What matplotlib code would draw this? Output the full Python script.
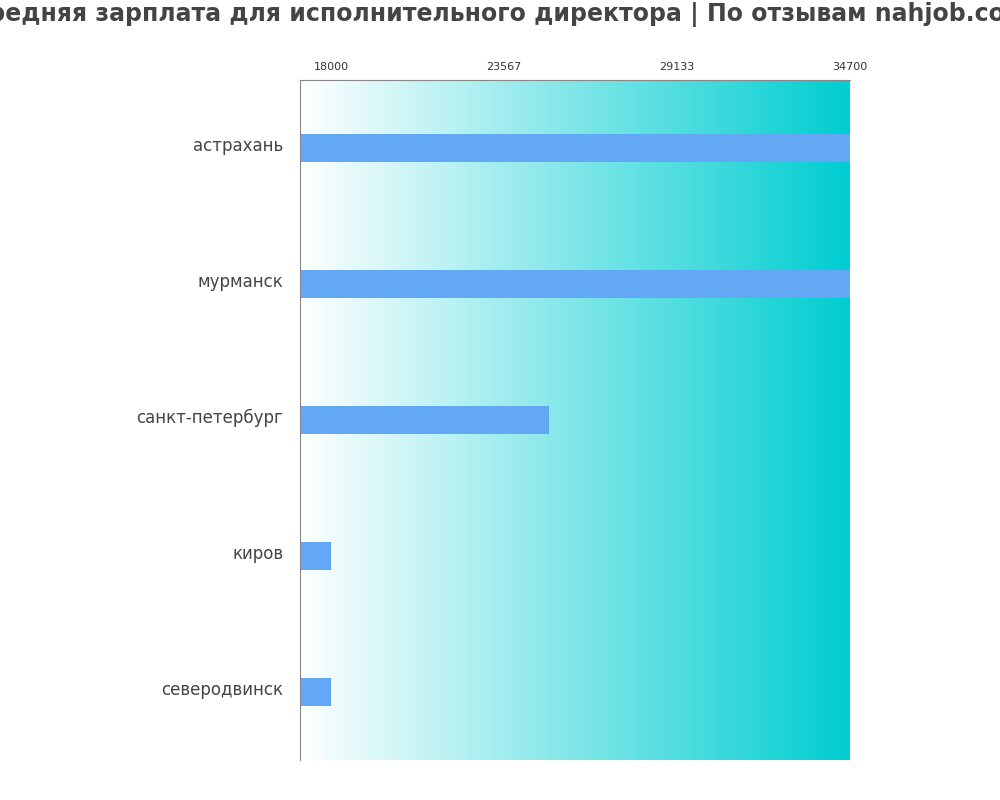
import numpy as np
import matplotlib.pyplot as plt
from matplotlib.colors import LinearSegmentedColormap

cities = ["астрахань", "мурманск", "санкт-петербург", "киров", "северодвинск"]
salaries = [34700, 34700, 25000, 18000, 18000]
ticks = [18000, 23567, 29133, 34700]


def main():
    fig = plt.figure(figsize=(10, 8), dpi=100)
    ax = fig.add_axes([0.30, 0.05, 0.55, 0.85])

    xmin, xmax = 17000, 34700
    grad = np.linspace(0, 1, 256).reshape(1, -1)
    cmap = LinearSegmentedColormap.from_list("bg", ["#ffffff", "#00ced1"])
    ax.imshow(grad, cmap=cmap, aspect="auto", extent=[xmin, xmax, -0.5, len(cities) - 0.5], zorder=0)

    y = np.arange(len(cities))
    ax.barh(y, np.array(salaries) - xmin, left=xmin, height=0.2, color="#63a8f5", zorder=2)

    ax.set_xlim(xmin, xmax)
    ax.set_ylim(len(cities) - 0.5, -0.5)
    ax.set_yticks(y - 0.03)
    ax.set_yticklabels(cities, fontsize=12, color="#444444")
    ax.set_xticks(ticks)
    ax.set_xticklabels([str(t) for t in ticks], fontsize=8, color="#333333")
    ax.xaxis.tick_top()
    ax.tick_params(axis="y", length=0, pad=12)
    ax.tick_params(axis="x", length=0, pad=6)
    for s in ["right", "bottom"]:
        ax.spines[s].set_visible(False)
    ax.spines["left"].set_color("#888888")
    ax.spines["top"].set_color("#888888")

    fig.text(0.5, 0.982, "Средняя зарплата для исполнительного директора | По отзывам nahjob.com",
             ha="center", va="center", fontsize=17, fontweight="bold", color="#444444")

    fig.savefig("out.png")


if __name__ == "__main__":
    main()
